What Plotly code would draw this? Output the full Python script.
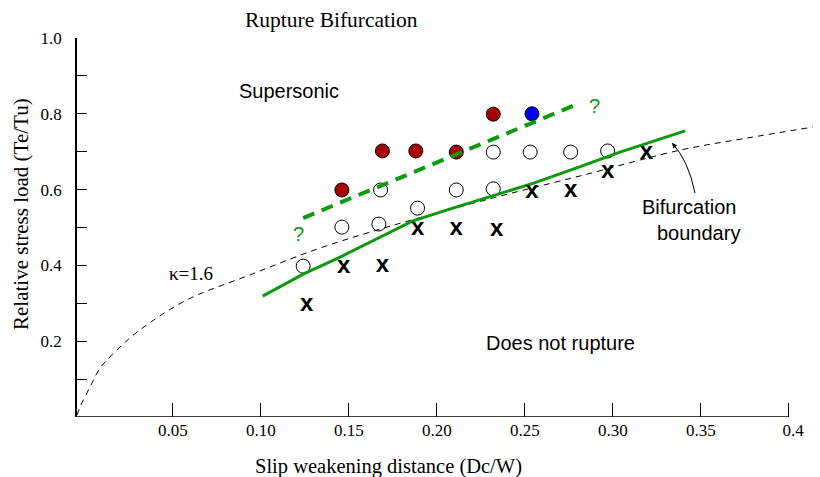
import plotly.graph_objects as go

# ---------------- data ----------------
kappa_x = [-0.0045, -0.0028, 0.0029, 0.0086, 0.0182, 0.0313, 0.058, 0.0938, 0.1319, 0.1716, 0.2319, 0.2813, 0.3381, 0.3762, 0.4137]
kappa_y = [0.005, 0.026, 0.079, 0.129, 0.177, 0.230, 0.309, 0.375, 0.443, 0.501, 0.578, 0.636, 0.704, 0.736, 0.765]

boundary_x = [0.101, 0.124, 0.145, 0.168, 0.186, 0.209, 0.232, 0.255, 0.281, 0.304, 0.341]
boundary_y = [0.319, 0.377, 0.422, 0.475, 0.517, 0.551, 0.583, 0.617, 0.660, 0.699, 0.755]

super_x = [0.124, 0.281]
super_y = [0.525, 0.828]

red_x = [0.146, 0.169, 0.188, 0.211, 0.232]
red_y = [0.599, 0.702, 0.702, 0.699, 0.799]

blue_x = [0.254]
blue_y = [0.80]

open_x = [0.124, 0.146, 0.167, 0.168, 0.189, 0.211, 0.232, 0.232, 0.253, 0.276, 0.297]
open_y = [0.398, 0.501, 0.509, 0.599, 0.551, 0.599, 0.602, 0.699, 0.699, 0.699, 0.702]

norup_x = [0.126, 0.147, 0.169, 0.189, 0.211, 0.234, 0.254, 0.276, 0.297, 0.319]
norup_y = [0.296, 0.396, 0.398, 0.496, 0.496, 0.493, 0.594, 0.596, 0.646, 0.697]

xtick_vals = [0.05, 0.10, 0.15, 0.20, 0.25, 0.30, 0.35, 0.40]
xtick_text = ["0.05", "0.10", "0.15", "0.20", "0.25", "0.30", "0.35", "\u00a0\u00a00.4"]
ytick_vals = [0.1, 0.2, 0.3, 0.4, 0.5, 0.6, 0.7, 0.8, 0.9, 1.0]
ytick_text = ["", "0.2", "", "0.4", "", "0.6", "", "0.8", "", "1.0"]

# ---------------- geometry ----------------
W, H = 820, 477
ML, MR, MT, MB = 77, 5, 38, 60
X0 = -0.0045
PXU = 1760.0           # pixels per x unit
PYU = 379.0            # pixels per y unit
X1 = X0 + (W - ML - MR) / PXU
PW = W - ML - MR
PH = H - MT - MB


def P(xp, yp):
    return X0 + (xp - ML) / PXU, (H - MB - yp) / PYU


def PP(xp, yp):
    return (xp - ML) / PW, (H - MB - yp) / PH


SERIF = "Liberation Serif, Times New Roman, serif"
SANS = "Liberation Sans, Arial, sans-serif"
GREEN = "#0b9a0b"

fig = go.Figure()

fig.add_trace(go.Scatter(x=open_x, y=open_y, mode="markers",
                         marker=dict(size=14, color="white", line=dict(color="black", width=1)),
                         showlegend=False, hoverinfo="skip"))
fig.add_trace(go.Scatter(x=red_x, y=red_y, mode="markers",
                         marker=dict(size=14, color="#a80000", line=dict(color="black", width=1)),
                         showlegend=False))
fig.add_trace(go.Scatter(x=blue_x, y=blue_y, mode="markers",
                         marker=dict(size=14, color="#0000f0", line=dict(color="black", width=1)),
                         showlegend=False))
fig.add_trace(go.Scatter(x=kappa_x, y=kappa_y, mode="lines", line_shape="spline",
                         line=dict(color="black", width=1, dash="6px,5px"),
                         showlegend=False))
fig.add_trace(go.Scatter(x=boundary_x, y=boundary_y, mode="lines",
                         line=dict(color=GREEN, width=3),
                         showlegend=False))
fig.add_trace(go.Scatter(x=super_x, y=super_y, mode="lines",
                         line=dict(color=GREEN, width=4, dash="12px,8px"),
                         showlegend=False))
fig.add_trace(go.Scatter(x=norup_x, y=norup_y, mode="text", text=["x"] * len(norup_x),
                         textposition="middle center",
                         textfont=dict(family=SANS, size=24, color="black", weight="bold"),
                         showlegend=False))

# x axis line (stops at 0.4 while the plot area runs a little further)
fig.add_shape(type="line", x0=X0, y0=0, x1=0.40, y1=0, line=dict(color="black", width=1.5))

# curved arrow
a0 = P(695, 193)
ac = P(688.5, 160.5)
a1 = P(672, 143)
fig.add_shape(type="path", path=f"M {a0[0]},{a0[1]} Q {ac[0]},{ac[1]} {a1[0]},{a1[1]}",
              line=dict(color="black", width=1))
fig.add_annotation(x=a1[0], y=a1[1], ax=6, ay=7, text="", showarrow=True,
                   arrowhead=2, arrowsize=1, arrowwidth=1, arrowcolor="black")


def txt(s, xp, yp, font, size, color="black", anchor="left", angle=0):
    x, y = PP(xp, yp)
    fig.add_annotation(x=x, y=y, xref="paper", yref="paper", text=s, showarrow=False,
                       xanchor=anchor, yanchor="middle", textangle=angle,
                       font=dict(family=font, size=size, color=color))


txt("Rupture Bifurcation", 243, 20, SERIF, 21.5)
txt("Supersonic", 237, 91, SANS, 20)
txt("Does not rupture", 484, 343, SANS, 20)
txt("Bifurcation", 640, 207, SANS, 20)
txt("boundary", 655, 233, SANS, 20)
txt("κ=1.6", 167, 273, SERIF, 19)
txt("?", 298, 234, SANS, 20, color=GREEN, anchor="center")
txt("?", 594, 106, SANS, 20, color=GREEN, anchor="center")
txt("Slip weakening distance (Dc/W)", 253, 466, SERIF, 20.5)
txt("Relative stress load (Te/Tu)", 21, 214, SERIF, 21, anchor="center", angle=-90)

fig.update_layout(
    width=W, height=H,
    margin=dict(l=ML, r=MR, t=MT, b=MB, pad=0),
    plot_bgcolor="white", paper_bgcolor="white",
    showlegend=False,
    xaxis=dict(range=[X0, X1], showgrid=False, zeroline=False, showline=False,
               tickmode="array", tickvals=xtick_vals, ticktext=xtick_text,
               ticks="inside", ticklen=14, tickwidth=1, tickcolor="black",
               tickfont=dict(family=SERIF, size=17, color="black"), ticklabelstandoff=1),
    yaxis=dict(range=[0, 1.0], showgrid=False, zeroline=False, showline=True,
               linecolor="black", linewidth=1.5,
               tickmode="array", tickvals=ytick_vals, ticktext=ytick_text,
               ticks="inside", ticklen=10, tickwidth=1, tickcolor="black",
               tickfont=dict(family=SERIF, size=17, color="black"), ticklabelstandoff=10),
)

fig.write_html("out.html")
